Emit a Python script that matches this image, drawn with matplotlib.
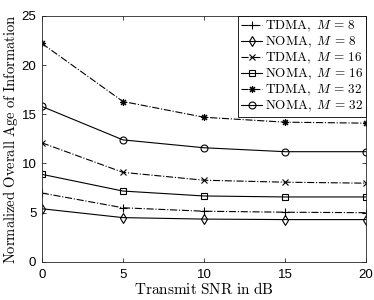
import matplotlib.pyplot as plt

plt.rcParams['mathtext.fontset'] = 'cm'
plt.rcParams['font.family'] = 'Liberation Sans'

# data
snr_db = [0, 5, 10, 15, 20]
tdma_8 = [7.0, 5.5, 5.15, 5.05, 5.0]
noma_8 = [5.4, 4.5, 4.35, 4.3, 4.3]
tdma_16 = [12.1, 9.1, 8.3, 8.1, 8.0]
noma_16 = [8.9, 7.2, 6.7, 6.6, 6.6]
tdma_32 = [22.2, 16.3, 14.7, 14.2, 14.1]
noma_32 = [15.8, 12.4, 11.6, 11.2, 11.2]

series = [
    (tdma_8, r'$\mathrm{TDMA,}\ M\,=\,8$', '-.', '+', 5.5),
    (noma_8, r'$\mathrm{NOMA,}\ M\,=\,8$', '-', 'd', 5.5),
    (tdma_16, r'$\mathrm{TDMA,}\ M\,=\,16$', '-.', 'x', 4.5),
    (noma_16, r'$\mathrm{NOMA,}\ M\,=\,16$', '-', 's', 4.5),
    (tdma_32, r'$\mathrm{TDMA,}\ M\,=\,32$', '-.', (8, 2, 0), 5.0),
    (noma_32, r'$\mathrm{NOMA,}\ M\,=\,32$', '-', 'o', 5.0),
]

fig = plt.figure(figsize=(3.74, 3.0), dpi=100)
ax = fig.add_axes([0.112, 0.127, 0.867, 0.820])

for vals, lab, ls, mk, ms in series:
    ax.plot(snr_db, vals, linestyle=ls, marker=mk, color='black', lw=0.8,
            markersize=ms, markerfacecolor='none', markeredgewidth=0.8, label=lab)

ax.set_xlim(0, 20)
ax.set_ylim(0, 25)
ax.set_xticks([0, 5, 10, 15, 20])
ax.set_yticks([0, 5, 10, 15, 20, 25])
ax.tick_params(direction='in', top=True, right=True, labelsize=9.5, length=3,
               color='#262626', width=0.6, pad=4)
ax.tick_params(axis='x', pad=5)
for s in ax.spines.values():
    s.set_color('#262626')
    s.set_linewidth(0.6)

ax.set_xlabel(r'$\mathrm{Transmit\ SNR\ in\ dB}$', fontsize=11, labelpad=0)
ax.set_ylabel(r'$\mathrm{Normalized\ Overall\ Age\ of\ Information}$', fontsize=10.5, labelpad=1)

leg = ax.legend(loc='upper right', fontsize=9.5, fancybox=False, framealpha=1,
                edgecolor='black', borderaxespad=0, handlelength=1.6,
                handletextpad=0.2, labelspacing=0.05, borderpad=0.25)
leg.get_frame().set_linewidth(0.6)

plt.savefig('out.png', dpi=100)
